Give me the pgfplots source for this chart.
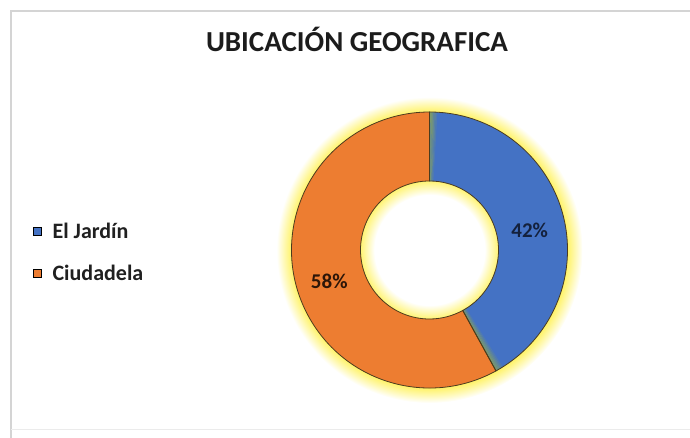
\documentclass[border=0pt]{standalone}
\usepackage{fontspec}
\setmainfont{Carlito}
\usepackage{pgfplots}
\pgfplotsset{compat=1.18}
\usepackage{pgfplotstable}

\definecolor{blueC}{HTML}{4472C4}
\definecolor{orangeC}{HTML}{ED7D31}
\definecolor{glowY}{HTML}{FFF36B}
\definecolor{bandG}{RGB}{125,155,105}
\definecolor{edgeC}{RGB}{75,60,30}
\definecolor{frameC}{HTML}{D4D4D4}
\definecolor{titleC}{HTML}{1C1C1C}
\definecolor{legC}{HTML}{202020}
\definecolor{lblA}{HTML}{14213D}
\definecolor{lblB}{HTML}{2D1608}
\colorlet{band0}{bandG!100!blueC}
\colorlet{band1}{bandG!88!blueC}
\colorlet{band2}{bandG!74!blueC}
\colorlet{band3}{bandG!58!blueC}
\colorlet{band4}{bandG!40!blueC}
\colorlet{band5}{bandG!20!blueC}

\pgfdeclareradialshading{glow}{\pgfpoint{0bp}{0bp}}{color(0bp)=(white); color(9.0bp)=(white); color(11.4bp)=(glowY); color(22.6bp)=(glowY); color(23.7bp)=(glowY!55!white); color(25bp)=(white); color(50bp)=(white)}

\pgfplotsset{sqlegend/.style={legend image code/.code={\fill[##1] (0pt,-4pt) rectangle (8pt,4pt);}}}

\newcommand\ringwedge[3]{%
  \path[#1] (axis cs:{\cx+\Ro*cos(#2)},{\cy+\Ro*sin(#2)})
    arc[start angle={#2}, end angle={#3}, radius=\Ro pt]
    -- (axis cs:{\cx+\Ri*cos(#3)},{\cy+\Ri*sin(#3)})
    arc[start angle={#3}, end angle={#2}, radius=\Ri pt] -- cycle;}

\pgfplotstableread{
name value
{El Jardín} 42
Ciudadela 58
}\datatable
\pgfplotstablegetelem{0}{value}\of\datatable \edef\va{\pgfplotsretval}
\pgfplotstablegetelem{1}{value}\of\datatable \edef\vb{\pgfplotsretval}
\pgfmathsetmacro\tot{\va+\vb}
\pgfmathsetmacro\aS{90}
\pgfmathsetmacro\aM{90-\va/\tot*360}
\pgfmathsetmacro\aE{\aM-\vb/\tot*360}
\pgfmathsetmacro\mA{(\aS+\aM)/2}
\pgfmathsetmacro\mB{(\aM+\aE)/2}
\def\cx{429.5}\def\cy{188}\def\Ro{138}\def\Ri{69}\def\Rg{153}
\pgfmathsetmacro\Rm{(\Ro+\Ri)/2}

\begin{document}
\begin{tikzpicture}
\begin{axis}[x=1pt, y=1pt, xmin=0, xmax=690, ymin=0, ymax=438,
  at={(0pt,0pt)}, anchor=origin, hide axis, clip=false,
  title={UBICACIÓN GEOGRAFICA},
  title style={at={(0.5174,0.8676)}, anchor=base, font=\fontsize{29}{32}\selectfont\bfseries, text=titleC, inner sep=0pt},
  legend style={draw=none, fill=none, at={(0.04783,0.4920)}, anchor=north west,
    inner sep=0pt, row sep=25pt, column sep=11pt,
    font=\fontsize{22}{24}\selectfont\bfseries, text=legC,
    nodes={scale=1, inner sep=0pt, transform shape}, cells={anchor=west}},
]
\draw[frameC, line width=1.2pt] (axis cs:11,0) -- (axis cs:11,427) -- (axis cs:690,427);
\draw[black!8, line width=1pt] (axis cs:11,8) -- (axis cs:690,8);
\path[shading=glow] (axis cs:\cx,\cy) circle[radius=\Rg pt];
\ringwedge{fill=blueC}{\aS}{\aM}
\pgfplotsinvokeforeach{0,...,5}{%
  \ringwedge{fill=band#1}{\aS-#1*0.55}{\aS-#1*0.55-0.56}
  \ringwedge{fill=band#1}{\aM+#1*0.55}{\aM+#1*0.55+0.56}
}
\ringwedge{fill=orangeC}{\aM}{\aE}
\ringwedge{draw=edgeC, line width=0.8pt}{\aS}{\aM}
\ringwedge{draw=edgeC, line width=0.8pt}{\aM}{\aE}
\node[font=\fontsize{21}{24}\selectfont\bfseries, text=lblA] at (axis cs:{\cx+\Rm*cos(\mA)},{\cy+\Rm*sin(\mA)-6}) {\va\%};
\node[font=\fontsize{21}{24}\selectfont\bfseries, text=lblB] at (axis cs:{\cx+\Rm*cos(\mB)},{\cy+\Rm*sin(\mB)-6}) {\vb\%};
\addlegendimage{sqlegend, fill=blueC}
\addlegendentry{El Jardín}
\addlegendimage{sqlegend, fill=orangeC}
\addlegendentry{Ciudadela}
\end{axis}
\pgfresetboundingbox
\path[use as bounding box] (0,0) rectangle (690pt,438pt);
\end{tikzpicture}
\end{document}
